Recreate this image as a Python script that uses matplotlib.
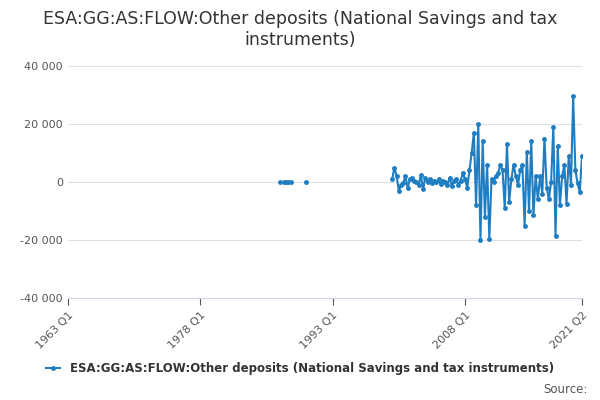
import numpy as np
import matplotlib.pyplot as plt

# quarterly values ending 2021 Q2
recent_values = [1000, 5000, 2000, -3000, -1000, -500, 2000, -2000, 1000, 1500, 500, 0,
                 -1000, 2500, -2500, 1500, 0, 1000, -500, 500, 0, 1000, -800, 500,
                 0, -1000, 1500, -1500, 500, 1000, -1000, 500,
                 3000, 1000, -2000, 4000, 10000, 17000, -8000, 20000, -20000, 14000,
                 -12000, 6000, -19500, 1000, 0, 2000, 3000, 6000, 4000, -9000,
                 13000, -7000, 1000, 6000, 2000, -1000, 4000, 6000, -15000, 10500,
                 -10000, 14000, -11500, 2000, -6000, 2000, -4000, 15000, -2000, -6000,
                 0, 19000, -18500, 12500, -8000, 2000, 6000, -7500, 9000, -1000,
                 29500, 4000, -500, -3500, 9000]
early_quarters = ["1987 Q1", "1987 Q3", "1987 Q4", "1988 Q1", "1988 Q2", "1990 Q1"]
early_values = [0, 0, 0, 0, 0, 0]

tick_labels = ["1963 Q1", "1978 Q1", "1993 Q1", "2008 Q1", "2021 Q2"]


def q2x(s):
    y, q = s.split(" Q")
    return int(y) + (int(q) - 1) / 4


end = q2x("2021 Q2")
n = len(recent_values)
recent_x = end - np.arange(n)[::-1] / 4
early_x = [q2x(s) for s in early_quarters]

color = "#1f7ec2"
fig, ax = plt.subplots(figsize=(6, 4), dpi=100)
fig.subplots_adjust(left=0.113, right=0.97, top=0.835, bottom=0.255)
ax.plot(recent_x, recent_values, color=color, lw=1.5, marker="o", ms=2.5,
        label="ESA:GG:AS:FLOW:Other deposits (National Savings and tax instruments)")
ax.plot(early_x, early_values, color=color, lw=0, marker="o", ms=2.5)

ax.set_xlim(q2x("1963 Q1"), end)
ax.set_ylim(-40000, 40000)
ax.set_yticks([-40000, -20000, 0, 20000, 40000])
ax.set_yticklabels(["-40 000", "-20 000", "0", "20 000", "40 000"])
ax.set_xticks([q2x(s) for s in tick_labels])
ax.set_xticklabels(tick_labels, rotation=45, ha="right", rotation_mode="anchor")
ax.tick_params(axis="y", length=0, labelsize=8, colors="#555555")
ax.tick_params(axis="x", labelsize=8, colors="#555555", length=5)
ax.grid(axis="y", color="#e0e0e0", lw=0.8)
for s in ["top", "right", "left"]:
    ax.spines[s].set_visible(False)
ax.spines["bottom"].set_color("#ccd6eb")

fig.suptitle("ESA:GG:AS:FLOW:Other deposits (National Savings and tax\ninstruments)",
             fontsize=12.5, color="#333333", y=0.975)
fig.legend(loc="lower center", bbox_to_anchor=(0.5, 0.035), frameon=False,
           prop={"size": 8.5, "weight": "bold"}, handlelength=1.2, labelcolor="#333333")
fig.text(0.98, 0.01, "Source:", ha="right", va="bottom", fontsize=8.5, color="#555555")
fig.savefig("out.png")
